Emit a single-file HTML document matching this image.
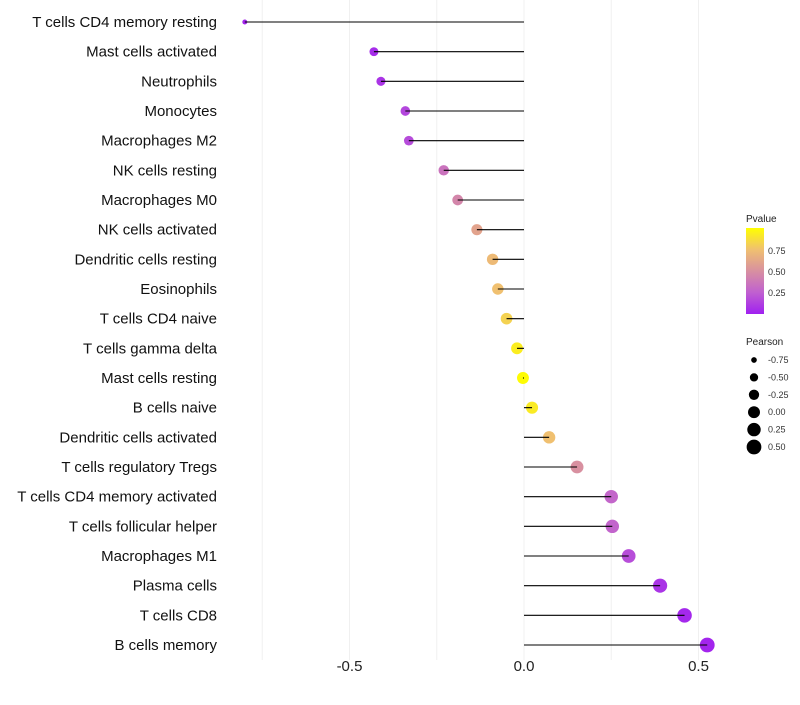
<!DOCTYPE html>
<html><head><meta charset="utf-8"><style>
body{margin:0;background:#fff;}
svg{font-family:"Liberation Sans",sans-serif;}
</style></head><body>
<svg id="chart" width="800" height="700">
<defs><linearGradient id="pg" x1="0" y1="1" x2="0" y2="0">
<stop offset="0" stop-color="#a020f0"/><stop offset="0.25" stop-color="#c060d0"/><stop offset="0.5" stop-color="#d890a0"/><stop offset="0.75" stop-color="#f0c070"/><stop offset="1" stop-color="#ffff00"/></linearGradient></defs>
<g id="grid"></g><g id="marks"></g><g id="labels"></g>
<g>
<text x="746" y="222" font-size="10" fill="#222">Pvalue</text>
<rect x="746" y="228" width="18" height="86" fill="url(#pg)"/>
<text x="768" y="254" font-size="9" fill="#333">0.75</text>
<text x="768" y="275" font-size="9" fill="#333">0.50</text>
<text x="768" y="296" font-size="9" fill="#333">0.25</text>
</g>
<g id="sizeleg">
<text x="746" y="345" font-size="10" fill="#222">Pearson</text>
</g>
</svg>
<script>
const categories=["T cells CD4 memory resting","Mast cells activated","Neutrophils","Monocytes","Macrophages M2","NK cells resting","Macrophages M0","NK cells activated","Dendritic cells resting","Eosinophils","T cells CD4 naive","T cells gamma delta","Mast cells resting","B cells naive","Dendritic cells activated","T cells regulatory  Tregs ","T cells CD4 memory activated","T cells follicular helper","Macrophages M1","Plasma cells","T cells CD8","B cells memory"];
const pearson=[-0.80,-0.43,-0.41,-0.34,-0.33,-0.23,-0.19,-0.135,-0.09,-0.075,-0.05,-0.02,-0.003,0.023,0.072,0.152,0.25,0.253,0.30,0.39,0.46,0.525];
const pvalues=[0.02,0.05,0.08,0.15,0.17,0.35,0.45,0.6,0.72,0.75,0.82,0.93,0.99,0.92,0.75,0.5,0.28,0.27,0.18,0.08,0.03,0.02];
const xTicks=[-0.5,0,0.5];
const xTickLabels=["-0.5","0.0","0.5"];
const gridVals=[-0.75,-0.5,-0.25,0,0.25,0.5];
const sizeLegend=[-0.75,-0.5,-0.25,0,0.25,0.5];
const sizeLegendLabels=["-0.75","-0.50","-0.25","0.00","0.25","0.50"];
const NS="http://www.w3.org/2000/svg";
const x=v=>524+v*349;
const y=i=>22+i*(645-22)/(categories.length-1);
const r=v=>Math.sqrt(Math.max(2,8+(v+0.75)*37));
const stops=[[0,[160,32,240]],[0.25,[192,96,208]],[0.5,[216,144,160]],[0.75,[240,192,112]],[1,[255,255,0]]];
function col(p){for(let k=0;k<stops.length-1;k++){const[a,ca]=stops[k],[b,cb]=stops[k+1];if(p<=b){const t=(p-a)/(b-a);return "rgb("+ca.map((c,j)=>Math.round(c+(cb[j]-c)*t)).join(",")+")";}}return "rgb(255,255,0)";}
function mk(t,attrs,parent){const e=document.createElementNS(NS,t);for(const k in attrs)e.setAttribute(k,attrs[k]);parent.appendChild(e);return e;}
const grid=document.getElementById('grid'),marks=document.getElementById('marks'),labels=document.getElementById('labels');
gridVals.forEach(v=>{const l=mk('line',{x1:x(v),x2:x(v),y1:0,y2:660,stroke:'#f0f0f0','stroke-width':1},grid);

});
xTicks.forEach((v,i)=>{const t=mk('text',{x:x(v),y:671,'font-size':15,'text-anchor':'middle',fill:'#222'},labels);t.textContent=xTickLabels[i];

});
categories.forEach((c,i)=>{
const t=mk('text',{x:217,y:y(i)+5,'font-size':15,'text-anchor':'end',fill:'#111'},labels);t.textContent=c;
t.setAttribute('xml:space','preserve');


const d=mk('circle',{cx:x(pearson[i]),cy:y(i),r:r(pearson[i]),fill:col(pvalues[i])},marks);


const l=mk('line',{x1:x(pearson[i]),x2:x(0),y1:y(i),y2:y(i),stroke:'#000','stroke-width':1.1},marks);


});
const sl=document.getElementById('sizeleg');
sizeLegend.forEach((v,i)=>{const cy=360+i*17.4;
const c=mk('circle',{cx:754,cy:cy,r:r(v),fill:'#000'},sl);


const t=mk('text',{x:768,y:cy+3,'font-size':9,fill:'#333'},sl);t.textContent=sizeLegendLabels[i];

});
</script>
</body></html>
